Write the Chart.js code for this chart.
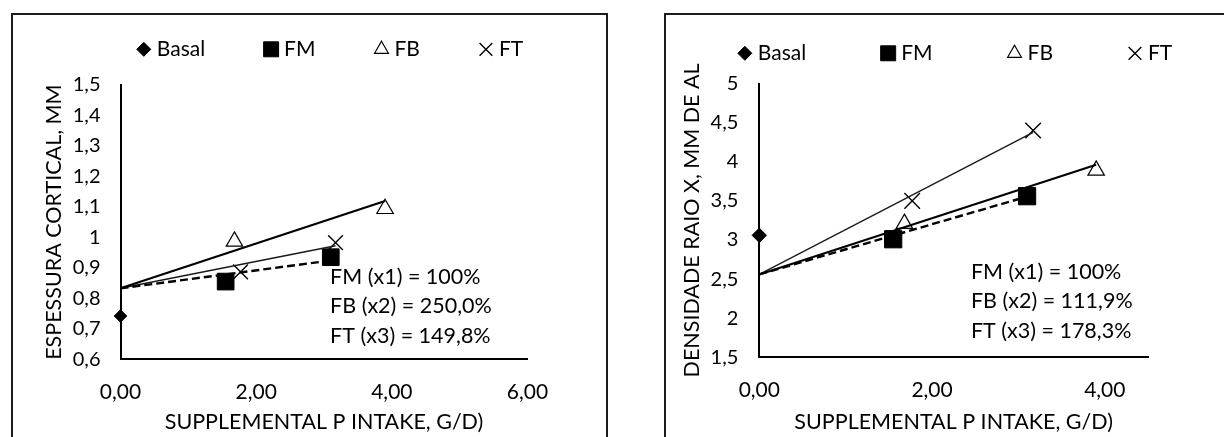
<!DOCTYPE html>
<html>
<head>
<meta charset="utf-8">
<script src="https://cdn.jsdelivr.net/npm/chart.js@4/dist/chart.umd.min.js"></script>
<style>
  html, body { margin: 0; padding: 0; background: #fff; }
  body { width: 1224px; height: 437px; position: relative; overflow: hidden; }
  .panel { position: absolute; top: 13px; width: 597px; height: 470px; border: 2px solid #1c1c1c; box-sizing: border-box; }
  #panelLeft { left: 11px; }
  #panelRight { left: 664px; }
  canvas { position: absolute; top: 0; }
</style>
</head>
<body>
<div class="panel" id="panelLeft"></div>
<div class="panel" id="panelRight"></div>
<canvas id="chartLeft" width="612" height="437" style="left:0"></canvas>
<canvas id="chartRight" width="612" height="437" style="left:612px"></canvas>
<script>
// ---- shared supplemental P intake (g/d) per source ----
const basalX = [0];
const fmX = [1.55, 3.10];
const fbX = [1.68, 3.90];
const ftX = [1.77, 3.17];

// ---- cortical thickness, mm ----
const cortBasal = [0.742];
const cortFM = [0.855, 0.935];
const cortFB = [0.987, 1.094];
const cortFT = [0.887, 0.983];
const cortIntercept = 0.833;
const cortSlopeFM = 0.0294;
const cortRelSlope = [1.000, 2.500, 1.498];     // FM, FB, FT relative to FM
const cortNotes = ['FM (x1) = 100%', 'FB (x2) = 250,0%', 'FT (x3) = 149,8%'];
const cortYTicks = [0.6, 0.7, 0.8, 0.9, 1.0, 1.1, 1.2, 1.3, 1.4, 1.5];
const cortXTicks = [0, 2, 4, 6];

// ---- X-ray density, mm Al ----
const densBasal = [3.06];
const densFM = [3.01, 3.56];
const densFB = [3.21, 3.89];
const densFT = [3.50, 4.40];
const densIntercept = 2.56;
const densSlopeFM = 0.321;
const densRelSlope = [1.000, 1.119, 1.783];
const densNotes = ['FM (x1) = 100%', 'FB (x2) = 111,9%', 'FT (x3) = 178,3%'];
const densYTicks = [1.5, 2, 2.5, 3, 3.5, 4, 4.5, 5];
const densXTicks = [0, 2, 4];

const seriesNames = ['Basal', 'FM', 'FB', 'FT'];

const FONT = 'Lato';
const TEXT_SIZE = 21.5;
const pts = (xs, ys) => xs.map((x, i) => ({ x, y: ys[i] }));

// fitted line from the common intercept to the largest intake of the source
function fitLine(xs, intercept, slope) {
  const xEnd = Math.max(...xs);
  return [{ x: 0, y: intercept }, { x: xEnd, y: intercept + slope * xEnd }];
}

// legend drawn as a single centred row above the plot
const markerLegend = {
  id: 'markerLegend',
  afterDraw(chart, args, opts) {
    const ctx = chart.ctx;
    const items = chart.data.datasets.filter(d => d.legendMarker);
    ctx.save();
    ctx.font = opts.size + 'px ' + FONT;
    const widths = items.map(d => ctx.measureText(d.label).width);
    let total = opts.half;
    widths.forEach((w, i) => { total += opts.gap + w + (i < items.length - 1 ? opts.space : 0); });
    const ca = chart.chartArea;
    let x = (ca.left + ca.right) / 2 + opts.shift - total / 2 + opts.half;
    items.forEach((d, i) => {
      const m = d.legendMarker;
      ctx.fillStyle = m.fill;
      ctx.strokeStyle = m.stroke;
      ctx.lineWidth = m.borderWidth;
      Chart.helpers.drawPoint(ctx, { pointStyle: m.style, radius: m.radius, rotation: 0, borderWidth: m.borderWidth }, x, opts.y);
      ctx.fillStyle = '#000';
      ctx.textAlign = 'left';
      ctx.textBaseline = 'middle';
      ctx.fillText(d.label, x + opts.gap, opts.y);
      x += opts.gap + widths[i] + opts.space;
    });
    ctx.restore();
  }
};

// slope comparison text, anchored in data units
const slopeNotes = {
  id: 'slopeNotes',
  afterDraw(chart, args, opts) {
    const { ctx, scales } = chart;
    const px = scales.x.getPixelForValue(opts.x);
    const py = scales.y.getPixelForValue(opts.y);
    ctx.save();
    ctx.font = opts.size + 'px ' + FONT;
    ctx.fillStyle = '#000';
    ctx.textAlign = 'left';
    ctx.textBaseline = 'middle';
    opts.lines.forEach((t, i) => ctx.fillText(t, px, py + i * opts.lineGap));
    ctx.restore();
  }
};

const fmtX = v => Number(v).toFixed(2).replace('.', ',');
const fmtY = v => String(+Number(v).toFixed(1)).replace('.', ',');

function makeChart(canvasId, c) {
  const mk = c.markers;
  const datasets = [
    { label: seriesNames[0], data: pts(basalX, c.basal), pointStyle: 'rectRot', pointRadius: mk.diamond,
      pointBackgroundColor: '#000', pointBorderColor: '#000', pointBorderWidth: 1, order: 2, clip: false,
      legendMarker: { style: 'rectRot', radius: 7, fill: '#000', stroke: '#000', borderWidth: 1 } },
    { label: seriesNames[1], data: pts(fmX, c.fm), pointStyle: 'rect', pointRadius: mk.square,
      pointBackgroundColor: '#000', pointBorderColor: '#000', pointBorderWidth: 1, order: 2, clip: false,
      legendMarker: { style: 'rect', radius: 10.6, fill: '#000', stroke: '#000', borderWidth: 1 } },
    { label: seriesNames[2], data: pts(fbX, c.fb), pointStyle: 'triangle', pointRadius: mk.triangle,
      pointBackgroundColor: '#fff', pointBorderColor: '#000', pointBorderWidth: 1.2, order: 2, clip: false,
      legendMarker: { style: 'triangle', radius: 8, fill: '#fff', stroke: '#000', borderWidth: 1.2 } },
    { label: seriesNames[3], data: pts(ftX, c.ft), pointStyle: 'crossRot', pointRadius: mk.cross,
      pointBackgroundColor: '#000', pointBorderColor: '#000', pointBorderWidth: 1.4, order: 2, clip: false,
      legendMarker: { style: 'crossRot', radius: 9, fill: '#000', stroke: '#000', borderWidth: 1.4 } },
    { label: 'FM fit', type: 'line', data: fitLine(fmX, c.intercept, c.slopeFM * c.rel[0]),
      showLine: true, pointRadius: 0, borderColor: '#000', borderWidth: 2.4, borderDash: [8, 4], order: 1 },
    { label: 'FB fit', type: 'line', data: fitLine(fbX, c.intercept, c.slopeFM * c.rel[1]),
      showLine: true, pointRadius: 0, borderColor: '#000', borderWidth: 2.1, order: 1 },
    { label: 'FT fit', type: 'line', data: fitLine(ftX, c.intercept, c.slopeFM * c.rel[2]),
      showLine: true, pointRadius: 0, borderColor: '#1a1a1a', borderWidth: 1.4, order: 1 }
  ];

  return new Chart(document.getElementById(canvasId), {
    type: 'scatter',
    data: { datasets },
    options: {
      responsive: false,
      animation: false,
      events: [],
      layout: { padding: c.padding },
      scales: {
        x: {
          type: 'linear', min: 0, max: c.xMax,
          afterBuildTicks: s => { s.ticks = c.xTicks.map(v => ({ value: v })); },
          afterFit: s => { s.height = c.xAxisHeight; },
          grid: { display: false, drawTicks: false },
          border: { display: true, color: '#000', width: 2 },
          ticks: { padding: 20, color: '#000', font: { family: FONT, size: 21 }, callback: v => fmtX(v), maxRotation: 0 },
          title: { display: true, text: 'SUPPLEMENTAL P INTAKE, G/D)', color: '#000',
                   font: { family: FONT, size: TEXT_SIZE }, padding: { top: 0, bottom: 2 } }
        },
        y: {
          type: 'linear', min: c.yTicks[0], max: c.yTicks[c.yTicks.length - 1],
          afterBuildTicks: s => { s.ticks = c.yTicks.map(v => ({ value: v })); },
          afterFit: s => { s.width = c.yAxisWidth; },
          grid: { display: false, drawTicks: false },
          border: { display: true, color: '#000', width: 2 },
          ticks: { padding: c.yTickPad, color: '#000', font: { family: FONT, size: 20 }, callback: v => fmtY(v) },
          title: { display: true, text: c.yTitle, color: '#000',
                   font: { family: FONT, size: TEXT_SIZE }, padding: { top: c.yTitlePad, bottom: 0 } }
        }
      },
      plugins: {
        legend: { display: false },
        tooltip: { enabled: false },
        markerLegend: { y: c.legendY, size: 21, gap: 13, half: 7, space: c.legendSpace, shift: c.legendShift },
        slopeNotes: { x: c.noteX, y: c.noteY, lines: c.notes, size: TEXT_SIZE, lineGap: 29.8 }
      }
    },
    plugins: [markerLegend, slopeNotes]
  });
}

makeChart('chartLeft', {
  basal: cortBasal, fm: cortFM, fb: cortFB, ft: cortFT,
  intercept: cortIntercept, slopeFM: cortSlopeFM, rel: cortRelSlope,
  notes: cortNotes, noteX: 3.09, noteY: 0.871,
  xTicks: cortXTicks, xMax: 6, yTicks: cortYTicks,
  yTitle: 'ESPESSURA CORTICAL, MM',
  padding: { top: 85, right: 84.5, bottom: 0, left: 0 },
  xAxisHeight: 77.7, yAxisWidth: 120.5, yTitlePad: 40.9, yTickPad: 20,
  legendY: 49.3, legendSpace: 66, legendShift: 6,
  markers: { diamond: 6.3, square: 11.8, triangle: 9.5, cross: 10.4 }
});

makeChart('chartRight', {
  basal: densBasal, fm: densFM, fb: densFB, ft: densFT,
  intercept: densIntercept, slopeFM: densSlopeFM, rel: densRelSlope,
  notes: densNotes, noteX: 2.45, noteY: 2.595,
  xTicks: densXTicks, xMax: 4.5, yTicks: densYTicks,
  yTitle: 'DENSIDADE RAIO X, MM DE AL',
  padding: { top: 83.5, right: 76, bottom: 0, left: 0 },
  xAxisHeight: 79.6, yAxisWidth: 147.3, yTitlePad: 67.6, yTickPad: 21,
  legendY: 53.3, legendSpace: 82, legendShift: 1.4,
  markers: { diamond: 7.2, square: 12.2, triangle: 9.5, cross: 11 }
});
</script>
</body>
</html>
